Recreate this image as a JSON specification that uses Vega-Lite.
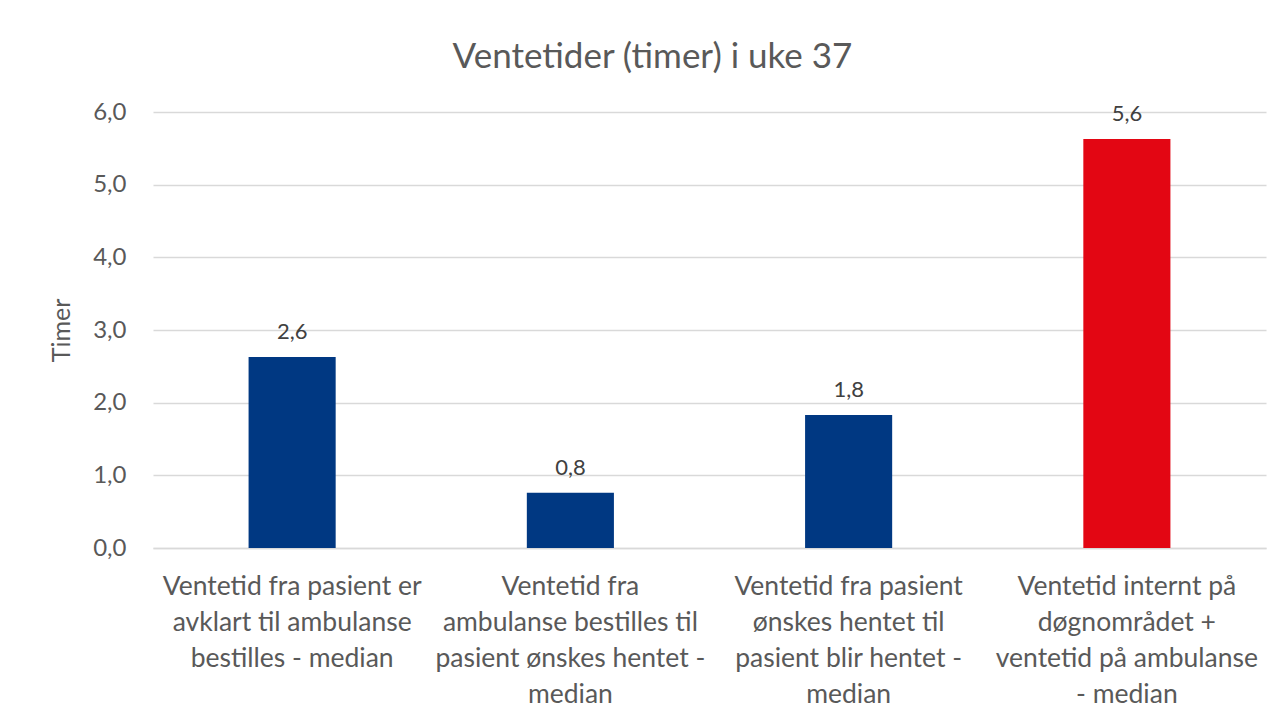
{
  "$schema": "https://vega.github.io/schema/vega-lite/v6.json",
  "width": 1113,
  "height": 436,
  "autosize": {"type": "none"},
  "padding": {"left": 153, "top": 112, "right": 10, "bottom": 173},
  "background": "white",
  "config": {
    "locale": {"number": {"decimal": ",", "thousands": " ", "grouping": [3], "currency": ["", " kr"]}},
    "font": "Lato",
    "view": {"stroke": null},
    "title": {"font": "Lato", "fontSize": 35, "fontWeight": "normal", "color": "#595959"}
  },
  "title": {"text": "Ventetider (timer) i uke 37", "anchor": "middle", "dx": -57, "offset": 25},
  "data": {
    "values": [
      {"kategori": "Ventetid fra pasient er\navklart til ambulanse\nbestilles - median", "timer": 2.63},
      {"kategori": "Ventetid fra\nambulanse bestilles til\npasient ønskes hentet -\nmedian", "timer": 0.76},
      {"kategori": "Ventetid fra pasient\nønskes hentet til\npasient blir hentet -\nmedian", "timer": 1.83},
      {"kategori": "Ventetid internt på\ndøgnområdet +\nventetid på ambulanse\n- median", "timer": 5.63}
    ]
  },
  "encoding": {
    "x": {
      "field": "kategori",
      "type": "nominal",
      "sort": null,
      "scale": {"paddingInner": 0.687, "paddingOuter": 0.3435},
      "axis": {
        "title": null,
        "labelAngle": 0,
        "labelExpr": "split(datum.label, '\\n')",
        "labelFont": "Lato",
        "labelFontSize": 26.5,
        "labelColor": "#595959",
        "labelLineHeight": 36,
        "labelPadding": 25,
        "labelLimit": 400,
        "ticks": false,
        "domainColor": "#d9d9d9",
        "domainWidth": 1.5,
        "grid": false
      }
    },
    "y": {
      "field": "timer",
      "type": "quantitative",
      "scale": {"domain": [0, 6]},
      "axis": {
        "title": "Timer",
        "titleFont": "Lato",
        "titleFontSize": 25,
        "titleFontWeight": "normal",
        "titleColor": "#595959",
        "titlePadding": 18,
        "values": [0, 1, 2, 3, 4, 5, 6],
        "format": ".1f",
        "labelFont": "Lato",
        "labelFontSize": 24,
        "labelColor": "#595959",
        "labelPadding": 27,
        "ticks": false,
        "domain": false,
        "gridColor": "#d9d9d9",
        "gridWidth": 1.5
      }
    }
  },
  "layer": [
    {
      "mark": {"type": "bar"},
      "encoding": {
        "color": {
          "field": "kategori",
          "type": "nominal",
          "sort": null,
          "scale": {"range": ["#003882", "#003882", "#003882", "#e30613"]},
          "legend": null
        }
      }
    },
    {
      "mark": {"type": "text", "baseline": "bottom", "dy": -13, "fontSize": 22, "color": "#404040", "font": "Lato"},
      "encoding": {
        "text": {"field": "timer", "type": "quantitative", "format": ".1f"}
      }
    }
  ]
}
